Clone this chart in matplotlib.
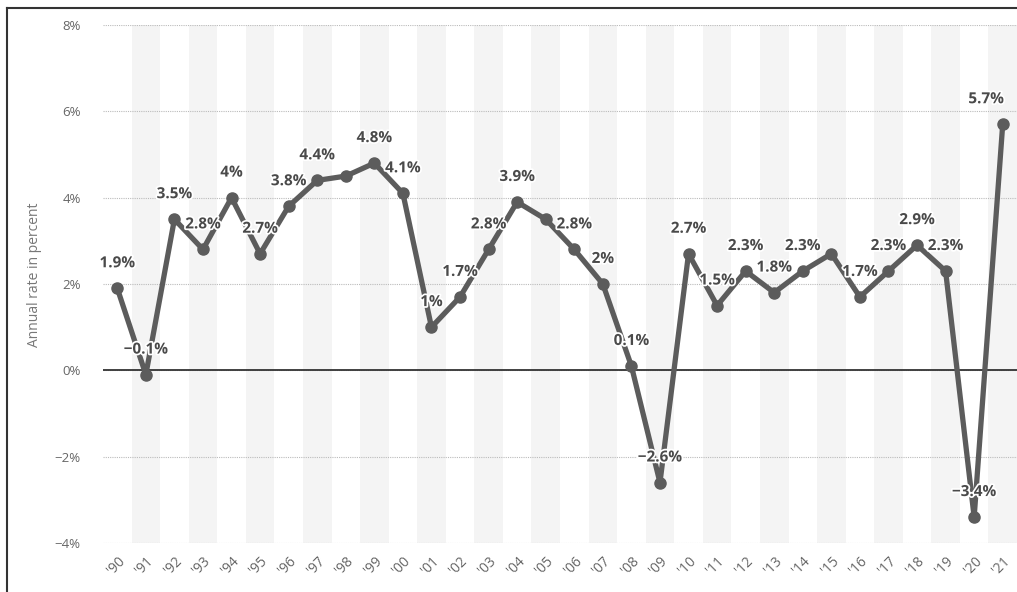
import numpy as np
import matplotlib
matplotlib.use("Agg")
import matplotlib.pyplot as plt
import matplotlib.patheffects as pe
from matplotlib.lines import Line2D

plt.rcParams['font.family'] = ['Open Sans', 'DejaVu Sans']

years = ["'90", "'91", "'92", "'93", "'94", "'95", "'96", "'97", "'98", "'99",
         "'00", "'01", "'02", "'03", "'04", "'05", "'06", "'07", "'08", "'09",
         "'10", "'11", "'12", "'13", "'14", "'15", "'16", "'17", "'18", "'19",
         "'20", "'21"]
rates = [1.9, -0.1, 3.5, 2.8, 4.0, 2.7, 3.8, 4.4, 4.5, 4.8,
         4.1, 1.0, 1.7, 2.8, 3.9, 3.5, 2.8, 2.0, 0.1, -2.6,
         2.7, 1.5, 2.3, 1.8, 2.3, 2.7, 1.7, 2.3, 2.9, 2.3,
         -3.4, 5.7]
# years whose value is printed on the chart
labelled = [True, True, True, True, True, True, True, True, False, True,
            True, True, True, True, True, False, True, True, True, True,
            True, True, True, True, True, False, True, True, True, True,
            True, True]

fig = plt.figure(figsize=(10.17, 5.92), dpi=100)
ax = fig.add_axes([103 / 1017, 49 / 592, 914 / 1017, 518 / 592])

x = np.arange(len(years))
for i in x[1::2]:
    ax.axvspan(i - 0.5, i + 0.5, color="#f4f4f4", lw=0, zorder=0)

ax.set_xlim(-0.5, len(years) - 0.5)
ax.set_ylim(-4, 8)
ax.set_yticks(np.arange(-4, 9, 2))
ax.set_yticklabels(["%d%%" % v if v >= 0 else "\u2212%d%%" % -v for v in range(-4, 9, 2)])
ax.yaxis.grid(True, color="#bbbbbb", linestyle=(0, (1, 1)), linewidth=0.8)
ax.set_axisbelow(True)
ax.axhline(0, color="#333333", lw=1.3, zorder=1)

ax.plot(x, rates, color="#5c5c5c", lw=3.8, marker="o", markersize=8,
        solid_joinstyle="round", zorder=3)

for xi, v, show in zip(x, rates, labelled):
    if not show:
        continue
    s = ("%g%%" % v).replace("-", "\u2212")
    dx = -12 if xi == len(years) - 1 else 0
    ax.annotate(s, (xi, v), xytext=(dx, 13), textcoords="offset points",
                ha="center", va="bottom", fontsize=11, fontweight="bold",
                color="#4a4a4a", zorder=4,
                path_effects=[pe.withStroke(linewidth=2.5, foreground="white")])

ax.set_xticks(x)
ax.set_xticklabels(years, rotation=45, ha="right", rotation_mode="anchor",
                   fontsize=10, color="#666666")
ax.tick_params(axis="x", length=0, pad=8)
ax.tick_params(axis="y", length=0, pad=16, labelsize=9.5, labelcolor="#666666")
for sp in ax.spines.values():
    sp.set_visible(False)

fig.text(35 / 1017, 1 - 275 / 592, "Annual rate in percent", rotation=90,
         ha="center", va="center", fontsize=10, color="#777777")

# outer frame (top and left edges)
fig.add_artist(Line2D([7 / 1017, 1], [1 - 8 / 592, 1 - 8 / 592], color="#333333", lw=1.5))
fig.add_artist(Line2D([7 / 1017, 7 / 1017], [0, 1 - 8 / 592], color="#333333", lw=1.5))

fig.savefig("out.png", dpi=100)
